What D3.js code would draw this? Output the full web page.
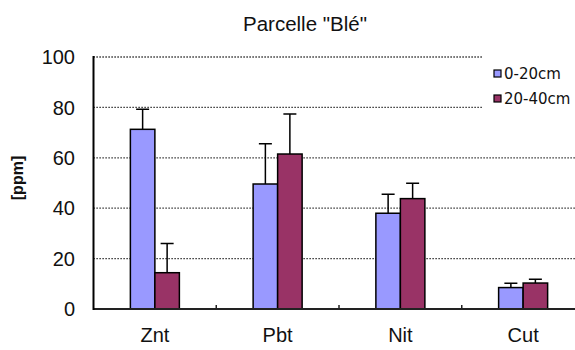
<!DOCTYPE html>
<html>
<head>
<meta charset="utf-8">
<script src="https://cdn.jsdelivr.net/npm/d3@7"></script>
<style>
  body { margin: 0; background: #fff; }
  svg { display: block; }
</style>
</head>
<body>
<script>
// Data
const categories = ['Znt', 'Pbt', 'Nit', 'Cut'];
const series = ['0-20cm', '20-40cm'];
const values0 = [71.3, 49.6, 38.0, 8.5];
const values1 = [14.4, 61.5, 43.8, 10.3];
const errors0 = [8.0, 16.0, 7.5, 1.7];
const errors1 = [11.6, 15.9, 6.1, 1.5];
const yTicks = [0, 20, 40, 60, 80, 100];
const colors = ['#9999ff', '#993366'];

// Layout
const W = 575, H = 350;
const plotL = 93.5, plotR = 584.5, plotT = 57, plotB = 309;

const svg = d3.select('body').append('svg')
    .attr('width', W)
    .attr('height', H)
    .style('font-family', 'Arial, "Liberation Sans", sans-serif');

// Scales
const x0 = d3.scaleBand().domain(categories).range([plotL, plotR]);
const groupW = 49;
const x1 = d3.scaleBand().domain(series).range([0, groupW]);
const y = d3.scaleLinear().domain([0, 100]).range([plotB, plotT]);

// Gridlines
svg.append('g')
    .selectAll('line')
    .data(yTicks.filter(d => d > 0))
    .enter().append('line')
    .attr('x1', plotL)
    .attr('x2', plotR)
    .attr('y1', d => y(d))
    .attr('y2', d => y(d))
    .attr('stroke', '#000')
    .attr('stroke-width', 1.3)
    .attr('stroke-dasharray', '1.2,1.8');

// Y tick labels
svg.append('g')
    .selectAll('text')
    .data(yTicks)
    .enter().append('text')
    .attr('x', 75)
    .attr('y', d => y(d))
    .attr('dy', '0.36em')
    .attr('text-anchor', 'end')
    .attr('font-size', 20)
    .attr('fill', '#111')
    .text(d => d);

// Bars
const rows = categories.map((c, i) => ({
    cat: c,
    items: [
        { s: series[0], v: values0[i], e: errors0[i], k: 0 },
        { s: series[1], v: values1[i], e: errors1[i], k: 1 }
    ]
}));

const groups = svg.append('g')
    .selectAll('g')
    .data(rows)
    .enter().append('g')
    .attr('transform', d => `translate(${x0(d.cat) + (x0.bandwidth() - groupW) / 2},0)`);

// Error bars (upper only)
groups.selectAll('.err')
    .data(d => d.items)
    .enter().append('path')
    .attr('class', 'err')
    .attr('fill', 'none')
    .attr('stroke', '#000')
    .attr('stroke-width', 1.5)
    .attr('d', d => {
        const cx = x1(d.s) + x1.bandwidth() / 2;
        const yt = y(d.v + d.e);
        return `M${cx},${y(d.v)}V${yt}M${cx - 6.5},${yt}H${cx + 6.5}`;
    });

groups.selectAll('rect')
    .data(d => d.items)
    .enter().append('rect')
    .attr('x', d => x1(d.s))
    .attr('y', d => y(d.v))
    .attr('width', x1.bandwidth())
    .attr('height', d => y(0) - y(d.v))
    .attr('fill', d => colors[d.k])
    .attr('stroke', '#000')
    .attr('stroke-width', 1.5);

// Axes
svg.append('line')
    .attr('x1', plotL).attr('x2', W)
    .attr('y1', plotB).attr('y2', plotB)
    .attr('stroke', '#222').attr('stroke-width', 2);

svg.append('line')
    .attr('x1', plotL).attr('x2', plotL)
    .attr('y1', plotT - 1).attr('y2', plotB + 1)
    .attr('stroke', '#000').attr('stroke-width', 2);

// Category boundary ticks (inside)
svg.append('g')
    .selectAll('line')
    .data(categories.slice(1))
    .enter().append('line')
    .attr('x1', d => x0(d))
    .attr('x2', d => x0(d))
    .attr('y1', plotB)
    .attr('y2', plotB - 4)
    .attr('stroke', '#222')
    .attr('stroke-width', 1.5);

// Category labels
svg.append('g')
    .selectAll('text')
    .data(categories)
    .enter().append('text')
    .attr('x', d => x0(d) + x0.bandwidth() / 2)
    .attr('y', 342)
    .attr('text-anchor', 'middle')
    .attr('font-size', 20)
    .attr('fill', '#111')
    .text(d => d);

// Title
svg.append('text')
    .attr('x', 305)
    .attr('y', 31)
    .attr('text-anchor', 'middle')
    .attr('font-size', 20.5)
    .attr('fill', '#111')
    .text('Parcelle "Blé"');

// Y axis label
svg.append('text')
    .attr('transform', 'translate(23,178) rotate(-90)')
    .attr('text-anchor', 'middle')
    .attr('font-size', 16)
    .attr('font-weight', 'bold')
    .attr('fill', '#111')
    .text('[ppm]');

// Legend
const legend = svg.append('g').attr('transform', 'translate(483,50)');
legend.append('rect')
    .attr('width', 100).attr('height', 66)
    .attr('fill', '#fff');

const li = legend.selectAll('g')
    .data(series)
    .enter().append('g')
    .attr('transform', (d, i) => `translate(11,${20 + i * 25})`);

li.append('rect')
    .attr('width', 7).attr('height', 7)
    .attr('fill', (d, i) => colors[i])
    .attr('stroke', '#000')
    .attr('stroke-width', 1.2);

li.append('text')
    .attr('x', 10)
    .attr('y', 4)
    .attr('dy', '0.36em')
    .attr('font-size', 15)
    .attr('font-family', '"DejaVu Sans", sans-serif')
    .attr('fill', '#111')
    .text(d => d);
</script>
</body>
</html>
